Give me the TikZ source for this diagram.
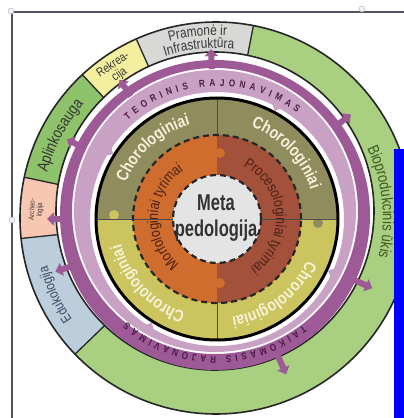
\documentclass[tikz,border=0pt]{standalone}
\usepackage{fontspec}
\setsansfont{Liberation Sans}[FakeStretch=0.82]
\newfontfamily\narrowfont{Liberation Sans}[FakeStretch=0.72]
\usetikzlibrary{arrows.meta,decorations.text}

\definecolor{sectgray}{HTML}{D8D8D6}
\definecolor{biogreen}{HTML}{A9CF80}
\definecolor{envgreen}{HTML}{8EC26B}
\definecolor{recyellow}{HTML}{F3EF9E}
\definecolor{archsalmon}{HTML}{F7C7B1}
\definecolor{edublue}{HTML}{BCCEDB}
\definecolor{violetring}{HTML}{9D5A97}
\definecolor{lilacring}{HTML}{C9A1C5}
\definecolor{oliveq}{HTML}{8F8C5E}
\definecolor{yellowq}{HTML}{CCC45E}
\definecolor{orangeh}{HTML}{CF6D2F}
\definecolor{brownh}{HTML}{A4513B}
\definecolor{coregray}{HTML}{E4E4E4}
\definecolor{plumtext}{HTML}{4B1C48}
\definecolor{rusttext}{HTML}{4A2116}
\definecolor{creamtext}{HTML}{F7F2DA}
\definecolor{darktext}{HTML}{3A3A3A}
\definecolor{edutext}{HTML}{3B4A66}
\definecolor{biotext}{HTML}{3C5A22}
\definecolor{frameline}{HTML}{50555C}

\begin{document}
\begin{tikzpicture}[x=1bp, y=1bp, font=\sffamily,
    band/.style={draw=black!85, line width=1.6bp},
    divider/.style={draw=black!85, line width=1.3bp},
    ringarrow/.style={line width=6bp, -{Triangle[width=13bp, length=7bp]}},
    innerarrow/.style={line width=5bp, -{Triangle[width=11bp, length=6bp]}},
    dashring/.style={draw=black!85, line width=2.2bp, dash pattern=on 6bp off 4bp},
    crossline/.style={draw=black!70, line width=0.8bp},
    arctext/.style={decorate, decoration={text along path, text align=center, text={#1}}},
    spreadtext/.style={decorate, decoration={text along path, text align=fit to path, text={#1}}},
    handle/.style={circle, draw=gray!60, fill=blue!6, inner sep=0pt, minimum size=6bp}
]
\useasboundingbox (0,0) rectangle (404,418);
\clip (0,0) rectangle (404,418);
\fill[white] (0,0) rectangle (404,418);

\coordinate (C) at (217,199);
\coordinate (outer) at (216,200);
\coordinate (outerin) at (215,207);
\coordinate (lilac) at (215,207);
\coordinate (violet) at (215,203);

% outer sectors
\begin{scope}[even odd rule]
\clip (outer) circle[radius=196] (outerin) circle[radius=159];
\fill[biogreen] (outer) circle[radius=210];
\fill[sectgray] (outer) -- ++(79:220) arc[start angle=79, end angle=114, radius=220] -- cycle;
\fill[recyellow] (outer) -- ++(114:220) arc[start angle=114, end angle=133, radius=220] -- cycle;
\fill[envgreen] (outer) -- ++(133:220) arc[start angle=133, end angle=168, radius=220] -- cycle;
\fill[archsalmon] (outer) -- ++(168:220) arc[start angle=168, end angle=186, radius=220] -- cycle;
\fill[edublue] (outer) -- ++(186:220) arc[start angle=186, end angle=224, radius=220] -- cycle;
\foreach \a in {79,114,133,168,186,224}
  \draw[divider] (outer) -- ++(\a:220);
\end{scope}
\draw[band] (outer) circle[radius=196] (outerin) circle[radius=159];

% rajonavimas rings
\fill[lilacring, even odd rule] (lilac) circle[radius=141] (C) circle[radius=127];
\fill[violetring, even odd rule] (violet) circle[radius=155] (lilac) circle[radius=143];

% inner rings
\fill[oliveq] ([shift={(0:121)}]C) arc[start angle=0, end angle=180, radius=121] -- cycle;
\fill[yellowq] ([shift={(180:121)}]C) arc[start angle=180, end angle=360, radius=121] -- cycle;
\fill[yellowq] ([shift={(-103,4)}]C) circle[radius=5];
\fill[oliveq] ([shift={(101,-4)}]C) circle[radius=5];
\fill[orangeh] ([shift={(90:84)}]C) arc[start angle=90, end angle=270, radius=84] -- cycle;
\fill[brownh] ([shift={(-90:84)}]C) arc[start angle=-90, end angle=90, radius=84] -- cycle;
\fill[orangeh] ([shift={(3,66)}]C) circle[radius=5];
\fill[orangeh] ([shift={(3,-64)}]C) circle[radius=5];
\foreach \a in {0,180}
  \draw[crossline] ([shift={(\a:44)}]C) -- ([shift={(\a:121)}]C);
\foreach \a in {90,270}
  \draw[crossline] ([shift={(\a:84)}]C) -- ([shift={(\a:121)}]C);
\fill[coregray] (C) circle[radius=44];
\draw[dashring] (C) circle[radius=84];
\draw[dashring] (C) circle[radius=44];
\draw[line width=3bp] (C) circle[radius=121];

% arrows
\foreach \a in {92,125,152,180,198,38,336,294}
  \draw[ringarrow, violetring] ([shift={(\a:150)}]C) -- ([shift={(\a:170)}]C);
\foreach \a in {148,62,335,238}
  \draw[innerarrow, lilacring] ([shift={(\a:134)}]C) -- ([shift={(\a:122.5)}]C);

% ring texts
\path[spreadtext={|\sffamily\bfseries\fontsize{10}{11}\selectfont\color{plumtext}|TEORINIS RAJONAVIMAS}]
  ([shift={(132:133)}]C) arc[start angle=132, end angle=53, radius=133];
\path[spreadtext={|\sffamily\bfseries\fontsize{10}{11}\selectfont\color{plumtext}|TAIKOMASIS RAJONAVIMAS}]
  ([shift={(309:137)}]C) arc[start angle=309, end angle=229, radius=137];

\path[arctext={|\sffamily\bfseries\fontsize{17}{19}\selectfont\color{creamtext}|Chorologiniai}]
  ([shift={(175:98)}]C) arc[start angle=175, end angle=89, radius=98];
\path[arctext={|\sffamily\bfseries\fontsize{17}{19}\selectfont\color{creamtext}|Chorologiniai}]
  ([shift={(87:98)}]C) arc[start angle=87, end angle=0, radius=98];
\path[arctext={|\sffamily\bfseries\fontsize{17}{19}\selectfont\color{creamtext}|Chronologiniai}]
  ([shift={(266:99)}]C) arc[start angle=266, end angle=180, radius=99];
\path[arctext={|\sffamily\bfseries\fontsize{17}{19}\selectfont\color{creamtext}|Chronologiniai}]
  ([shift={(350:99)}]C) arc[start angle=350, end angle=264, radius=99];
\path[arctext={|\sffamily\fontsize{15}{17}\selectfont\color{rusttext}|Morfologiniai tyrimai}]
  ([shift={(262:59)}]C) arc[start angle=262, end angle=93, radius=59];
\path[arctext={|\sffamily\fontsize{15}{17}\selectfont\color{rusttext}|Procesologiniai tyrimai}]
  ([shift={(88:59)}]C) arc[start angle=88, end angle=-80, radius=59];

\node[font=\narrowfont\bfseries\fontsize{23}{27}\selectfont, text=black!80, align=center]
  (core) at ([shift={(-1,1)}]C) {Meta\\pedologija};

% outer texts
\path[arctext={|\sffamily\fontsize{14.5}{16}\selectfont\color{darktext}|Pramonė ir}]
  ([shift={(118:184)}]C) arc[start angle=118, end angle=74, radius=184];
\path[arctext={|\sffamily\fontsize{14.5}{16}\selectfont\color{darktext}|Infrastruktūra}]
  ([shift={(122:171)}]C) arc[start angle=122, end angle=70, radius=171];
\path[arctext={|\sffamily\fontsize{16}{18}\selectfont\color{black!80}|Aplinkosauga}]
  ([shift={(172:176)}]C) arc[start angle=172, end angle=132, radius=176];
\path[arctext={|\sffamily\fontsize{14}{16}\selectfont\color{edutext}|Edukologija}]
  ([shift={(226:176)}]C) arc[start angle=226, end angle=184, radius=176];
\path[arctext={|\sffamily\fontsize{16}{18}\selectfont\color{biotext}|Bioprodukcinis ūkis}]
  ([shift={(40:166)}]C) arc[start angle=40, end angle=-28, radius=166];
\node[font=\sffamily\fontsize{12.5}{11.5}\selectfont, text=darktext, align=center, rotate=34, inner sep=0pt]
  (rekreacija) at ([shift={(124:180)}]C) {Rekrea-\\cija};
\node[font=\sffamily\fontsize{7.5}{7.5}\selectfont, text=darktext, align=center, rotate=87, inner sep=0pt]
  (archeologija) at ([shift={(177:181)}]C) {Archeo-\\logija};

% selection frame
\draw[frameline, line width=2bp] (404,406) -- (12,406) -- (12,0);
\node[handle] (h1) at (11,407) {};
\node[handle] (h2) at (12,198) {};
\node[handle] (h3) at (362,409) {};
\fill[blue] (394,0) rectangle (404,269);
\end{tikzpicture}
\end{document}
